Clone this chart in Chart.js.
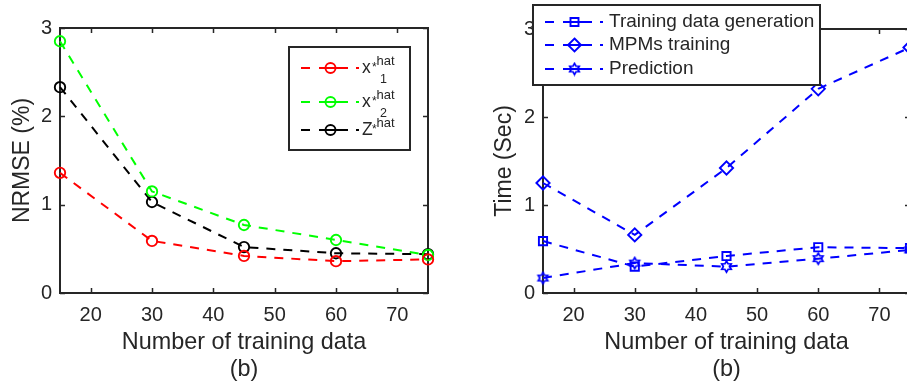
<!DOCTYPE html>
<html>
<head>
<meta charset="utf-8">
<script src="https://cdn.jsdelivr.net/npm/chart.js@4.4.1/dist/chart.umd.min.js"></script>
<style>
  html, body { margin: 0; padding: 0; background: #fff; overflow: hidden; width: 907px; height: 385px; }
  canvas { position: absolute; top: 0; }
  #nrmseChart { left: 0; }
  #timeChart { left: 480px; }
</style>
</head>
<body>
<canvas id="nrmseChart" width="453" height="385"></canvas>
<canvas id="timeChart" width="460" height="385"></canvas>
<script>
// ---- data ----
const nTrain = [15, 30, 45, 60, 75];

const nrmseX1 = [1.36, 0.59, 0.42, 0.36, 0.38];
const nrmseX2 = [2.85, 1.15, 0.77, 0.60, 0.43];
const nrmseZ  = [2.33, 1.03, 0.52, 0.45, 0.44];

const timeGen  = [0.59, 0.30, 0.42, 0.52, 0.51];
const timeMPM  = [1.25, 0.66, 1.42, 2.32, 2.79];
const timePred = [0.17, 0.34, 0.30, 0.39, 0.49];

const xTicks = [20, 30, 40, 50, 60, 70];
const yTicks = [0, 1, 2, 3];

const xTitle = ['Number of training data', '(b)'];
const nrmseTitle = 'NRMSE (%)';
const timeTitle = 'Time (Sec)';
const timeLabels = ['Training data generation', 'MPMs training', 'Prediction'];

// ---- style ----
const FONT = '"Liberation Sans", Arial, Helvetica, sans-serif';
const INK = '#262626';
const RED = '#ff0000', GREEN = '#00ff00', BLACK = '#000000', BLUE = '#0000ff';
const DASH = [9, 8];

Chart.defaults.font.family = FONT;
Chart.defaults.color = INK;

// six-pointed star marker outline
function hexagram(color, R, lw) {
  const c = document.createElement('canvas');
  const s = Math.ceil(2 * R + lw + 2);
  c.width = c.height = s;
  const g = c.getContext('2d');
  g.translate(s / 2, s / 2);
  const r = R / Math.sqrt(3);
  g.beginPath();
  for (let k = 0; k < 12; k++) {
    const ang = -Math.PI / 2 + k * Math.PI / 6;
    const rad = k % 2 === 0 ? R : r;
    const px = Math.cos(ang) * rad, py = Math.sin(ang) * rad;
    if (k === 0) g.moveTo(px, py); else g.lineTo(px, py);
  }
  g.closePath();
  g.strokeStyle = color;
  g.lineWidth = lw;
  g.stroke();
  return c;
}
const hexMarker = hexagram(BLUE, 5.5, 1.7);

function series(values, color, style, radius) {
  return {
    data: nTrain.map((n, i) => ({ x: n, y: values[i] })),
    borderColor: color,
    backgroundColor: 'transparent',
    borderWidth: 2,
    borderDash: DASH,
    pointStyle: style,
    pointRadius: radius,
    pointHoverRadius: radius,
    pointBorderColor: color,
    pointBackgroundColor: 'transparent',
    pointBorderWidth: 1.9,
    tension: 0,
    fill: false,
    clip: false
  };
}

// box frame with inward tick marks on all four sides
const framePlugin = {
  id: 'frame',
  beforeDatasetsDraw(chart) {
    const { ctx, chartArea: a, scales: { x, y } } = chart;
    ctx.save();
    ctx.strokeStyle = INK;
    ctx.lineWidth = 1.5;
    ctx.beginPath();
    x.ticks.forEach(t => {
      const px = Math.round(x.getPixelForValue(t.value)) + 0.5;
      ctx.moveTo(px, a.bottom); ctx.lineTo(px, a.bottom - 5);
      ctx.moveTo(px, a.top); ctx.lineTo(px, a.top + 5);
    });
    y.ticks.forEach(t => {
      const py = Math.round(y.getPixelForValue(t.value)) + 0.5;
      ctx.moveTo(a.left, py); ctx.lineTo(a.left + 5, py);
      ctx.moveTo(a.right, py); ctx.lineTo(a.right - 5, py);
    });
    ctx.stroke();
    ctx.lineWidth = 2;
    ctx.strokeRect(a.left, a.top, a.width, a.height);
    ctx.restore();
  }
};

function drawMarker(ctx, kind, color, x, y) {
  ctx.save();
  ctx.strokeStyle = color;
  ctx.lineWidth = 1.9;
  ctx.setLineDash([]);
  ctx.beginPath();
  if (kind === 'circle') {
    ctx.arc(x, y, 5, 0, Math.PI * 2);
    ctx.stroke();
  } else if (kind === 'rect') {
    ctx.rect(x - 4, y - 4, 8, 8);
    ctx.stroke();
  } else if (kind === 'rectRot') {
    ctx.moveTo(x, y - 6.5); ctx.lineTo(x + 6.5, y); ctx.lineTo(x, y + 6.5); ctx.lineTo(x - 6.5, y);
    ctx.closePath();
    ctx.stroke();
  } else {
    ctx.drawImage(kind, x - kind.width / 2, y - kind.height / 2);
  }
  ctx.restore();
}

// boxed legend: "- —o— ·" sample followed by label
function legendPlugin(id, spec) {
  return {
    id,
    afterDraw(chart) {
      const { ctx, chartArea: a } = chart;
      const bx = spec.anchor === 'right' ? a.right - spec.dx - spec.w : a.left + spec.dx;
      const by = spec.top(a);
      ctx.save();
      ctx.fillStyle = '#fff';
      ctx.fillRect(bx, by, spec.w, spec.h);
      ctx.strokeStyle = INK;
      ctx.lineWidth = 2;
      ctx.strokeRect(bx, by, spec.w, spec.h);
      spec.rows.forEach(row => {
        const ry = by + row.dy;
        ctx.strokeStyle = row.color;
        ctx.lineWidth = 2;
        ctx.beginPath();
        ctx.moveTo(bx + 12, ry); ctx.lineTo(bx + 21, ry);
        ctx.moveTo(bx + 30, ry); ctx.lineTo(bx + 59, ry);
        ctx.moveTo(bx + 67, ry); ctx.lineTo(bx + 70, ry);
        ctx.stroke();
        drawMarker(ctx, row.marker, row.color, bx + 41.5, ry);
        const tx = bx + spec.textX;
        ctx.fillStyle = INK;
        if (row.rich) {
          const r = row.rich;
          ctx.textBaseline = 'alphabetic';
          ctx.textAlign = 'left';
          ctx.font = '17.5px ' + FONT;
          ctx.fillText(r.main, tx, ry + 5);
          ctx.font = '12px ' + FONT;
          ctx.fillText('*', tx + 10, ry + 3);
          ctx.font = '13px ' + FONT;
          ctx.fillText(r.sup, tx + 14.5, ry - 3);
          if (r.sub) {
            ctx.font = '12.5px ' + FONT;
            ctx.fillText(r.sub, tx + 18, ry + 15);
          }
        } else {
          ctx.textBaseline = 'middle';
          ctx.textAlign = 'left';
          ctx.font = '19px ' + FONT;
          ctx.fillText(row.text, tx, ry);
        }
      });
      ctx.restore();
    }
  };
}

function axes(yTitle, yWidth, yTitlePad) {
  return {
    x: {
      type: 'linear', min: 15, max: 75,
      afterBuildTicks: s => { s.ticks = xTicks.map(v => ({ value: v })); },
      afterFit: s => { s.height = 92; },
      grid: { display: false, drawTicks: false },
      border: { display: false },
      ticks: { font: { size: 20 }, color: INK, padding: 10, maxRotation: 0 },
      title: { display: true, text: xTitle, color: INK, font: { size: 23.4, lineHeight: 1.154 }, padding: { top: 0, bottom: 1.5 } }
    },
    y: {
      type: 'linear', min: 0, max: 3,
      afterBuildTicks: s => { s.ticks = yTicks.map(v => ({ value: v })); },
      afterFit: s => { s.width = yWidth; },
      grid: { display: false, drawTicks: false },
      border: { display: false },
      ticks: { font: { size: 20 }, color: INK, padding: 8 },
      title: { display: true, text: yTitle, color: INK, font: { size: 23 }, padding: { top: yTitlePad, bottom: 0 } }
    }
  };
}

const common = {
  responsive: false,
  animation: false,
  devicePixelRatio: 1,
  events: [],
  plugins: { legend: { display: false }, tooltip: { enabled: false } }
};

new Chart(document.getElementById('nrmseChart'), {
  type: 'line',
  data: {
    datasets: [
      series(nrmseX1, RED, 'circle', 5.2),
      series(nrmseX2, GREEN, 'circle', 5.2),
      series(nrmseZ, BLACK, 'circle', 5.2)
    ]
  },
  options: Object.assign({}, common, {
    layout: { padding: { top: 28, right: 25, bottom: 0, left: 0 } },
    scales: axes(nrmseTitle, 60, 9)
  }),
  plugins: [framePlugin, legendPlugin('nrmseLegend', {
    anchor: 'right', dx: 18, w: 121, h: 103, textX: 73,
    top: a => a.top + 19,
    rows: [
      { color: RED, marker: 'circle', dy: 21, rich: { main: 'x', sup: 'hat', sub: '1' } },
      { color: GREEN, marker: 'circle', dy: 55, rich: { main: 'x', sup: 'hat', sub: '2' } },
      { color: BLACK, marker: 'circle', dy: 83, rich: { main: 'Z', sup: 'hat' } }
    ]
  })]
});

new Chart(document.getElementById('timeChart'), {
  type: 'line',
  data: {
    datasets: [
      series(timeGen, BLUE, 'rect', 5.8),
      series(timeMPM, BLUE, 'rectRot', 6.6),
      series(timePred, BLUE, hexMarker, 5.5)
    ]
  },
  options: Object.assign({}, common, {
    layout: { padding: { top: 29, right: 30, bottom: 0, left: 0 } },
    scales: axes(timeTitle, 63, 11)
  }),
  plugins: [framePlugin, legendPlugin('timeLegend', {
    anchor: 'left', dx: -10, w: 287, h: 80, textX: 76,
    top: a => a.top - 24,
    rows: [
      { color: BLUE, marker: 'rect', dy: 17, text: timeLabels[0] },
      { color: BLUE, marker: 'rectRot', dy: 40, text: timeLabels[1] },
      { color: BLUE, marker: hexMarker, dy: 64, text: timeLabels[2] }
    ]
  })]
});
</script>
</body>
</html>
